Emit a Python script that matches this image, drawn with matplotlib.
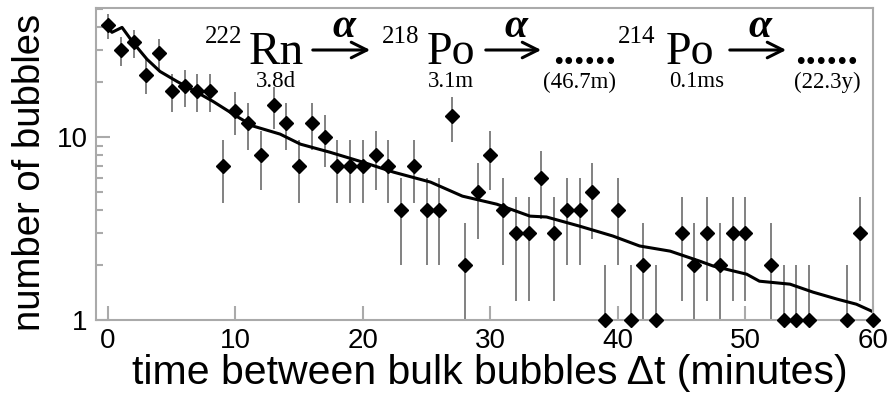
import numpy as np
import matplotlib
matplotlib.use('Agg')
import matplotlib.pyplot as plt

# Bubble counts per 1-minute bin (empty bins left out on the log axis)
minutes = [0, 1, 2, 3, 4, 5, 6, 7, 8, 9, 10, 11, 12, 13, 14, 15, 16, 17, 18, 19,
           20, 21, 22, 23, 24, 25, 26, 27, 28, 29, 30, 31, 32, 33, 34, 35, 36, 37,
           38, 39, 40, 41, 42, 43, 45, 46, 47, 48, 49, 50, 52, 53, 54, 55, 58, 59, 60]
counts = [41, 30, 33, 22, 29, 18, 19, 18, 18, 7, 14, 12, 8, 15, 12, 7, 12, 10, 7, 7,
          7, 8, 7, 4, 7, 4, 4, 13, 2, 5, 8, 4, 3, 3, 6, 3, 4, 4,
          5, 1, 4, 1, 2, 1, 3, 2, 3, 2, 3, 3, 2, 1, 1, 1, 1, 3, 1]

# Fitted decay curve
fit_t = [-0.24, 0.31, 1.10, 1.96, 3.06, 4.08, 5.41, 6.98, 8.24, 10.1, 11.4, 13.5,
         15.1, 17.4, 20.0, 22.4, 25.3, 27.8, 30.5, 33.1, 34.4, 37.0, 39.6, 41.7,
         44.1, 46.4, 47.5, 50.1, 51.1, 53.5, 55.3, 57.2, 58.7, 60.0]
fit_n = [41.4, 37.5, 39.9, 33.0, 26.7, 22.9, 20.2, 17.6, 15.7, 13.0, 11.5, 10.4,
         9.16, 8.28, 7.30, 6.44, 5.68, 4.76, 4.30, 3.70, 3.66, 3.26, 2.88, 2.54,
         2.38, 2.10, 1.97, 1.78, 1.63, 1.57, 1.42, 1.30, 1.22, 1.11]

x = np.array(minutes)
y = np.array(counts, dtype=float)
err = np.sqrt(y)

fig = plt.figure(figsize=(8.88, 3.96), dpi=100)
ax = fig.add_axes([0.108, 0.192, 0.875, 0.788])
ax.set_yscale('log')

ax.errorbar(x, y, yerr=err, fmt='none', ecolor='#777777', elinewidth=1.3, capsize=0)
ax.plot(fit_t, fit_n, color='black', lw=2.2)
ax.plot(x, y, 'D', color='black', ms=7.5, clip_on=False, zorder=5)

ax.set_xlim(-0.95, 60)
ax.set_ylim(1, 51)
ax.set_xticks([0, 10, 20, 30, 40, 50, 60])
ax.set_yticks([1, 10])
ax.set_yticklabels(['1', '10'])
ax.minorticks_on()
ax.xaxis.set_minor_locator(matplotlib.ticker.NullLocator())
ax.yaxis.set_minor_formatter(matplotlib.ticker.NullFormatter())

grey = '#aaaaaa'
for s in ax.spines.values():
    s.set_color(grey)
    s.set_linewidth(1.5)
ax.tick_params(which='major', direction='in', length=10, width=1.5, color=grey,
               labelsize=20, pad=6)
ax.tick_params(which='minor', direction='in', length=5, width=1.5, color=grey)
for lab in ax.get_xticklabels() + ax.get_yticklabels():
    lab.set_family('Liberation Sans')

# axis titles placed by hand
W, H = 888, 396
fig.text(490 / W, 1 - 384 / H, 'time between bulk bubbles \u0394t (minutes)',
         family='Liberation Sans', fontsize=29.5, ha='center', va='baseline')
fig.text(30 / W, 1 - 172 / H, 'number of bubbles', family='Liberation Sans',
         fontsize=27.5, rotation=90, ha='center', va='center')

# Decay chain
serif = 'Liberation Serif'


def ftext(px, py, s, **kw):
    fig.text(px / W, 1 - py / H, s, family=serif, **kw)


ftext(205, 43, '222', fontsize=18, va='baseline')
ftext(249, 64, 'Rn', fontsize=34, va='baseline')
ftext(276, 87, '3.8d', fontsize=16.5, va='baseline', ha='center')
ftext(382, 43, '218', fontsize=18, va='baseline')
ftext(427, 64, 'Po', fontsize=33, va='baseline')
ftext(451, 87, '3.1m', fontsize=16.5, va='baseline', ha='center')
ftext(585, 64, '......', fontsize=30, va='baseline', ha='center', fontweight='bold')
ftext(579, 88, '(46.7m)', fontsize=16.5, va='baseline', ha='center')
ftext(618, 43, '214', fontsize=18, va='baseline')
ftext(666, 64, 'Po', fontsize=33, va='baseline')
ftext(697, 87, '0.1ms', fontsize=16.5, va='baseline', ha='center')
ftext(827, 64, '......', fontsize=30, va='baseline', ha='center', fontweight='bold')
ftext(827, 88, '(22.3y)', fontsize=16.5, va='baseline', ha='center')

for x0, x1 in [(310, 373), (483, 544), (727, 789)]:
    fig.add_artist(matplotlib.patches.FancyArrowPatch(
        (x0 / W, 1 - 50 / H), (x1 / W, 1 - 50 / H), transform=fig.transFigure,
        arrowstyle='->,head_length=0.8,head_width=0.4', lw=2.2, color='black',
        mutation_scale=14))
    ftext((x0 + x1) / 2 + 2, 27, '\u03b1', fontsize=30, style='italic',
          fontweight='bold', ha='center', va='center')

fig.savefig('out.png', dpi=100)
